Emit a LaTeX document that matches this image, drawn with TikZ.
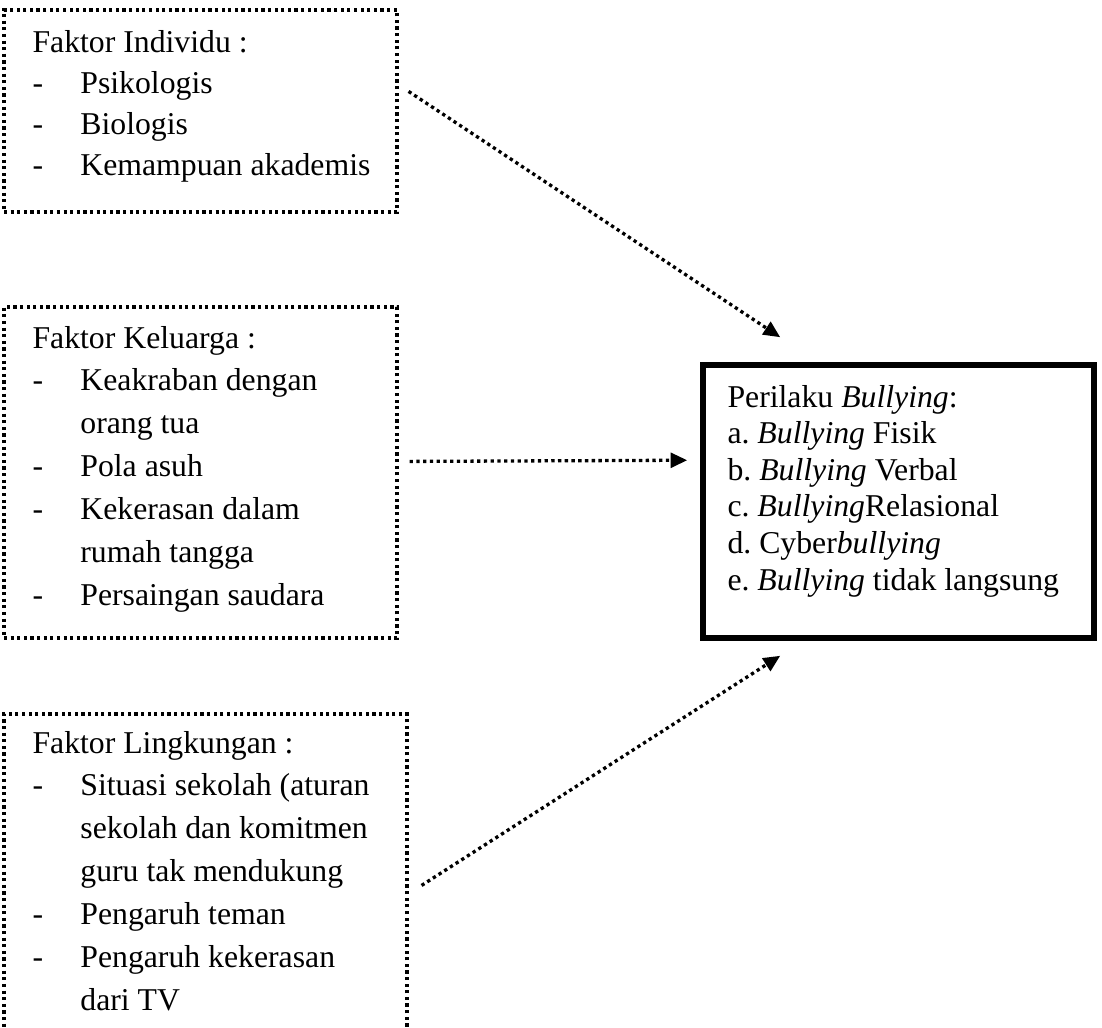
\documentclass[tikz,border=0pt]{standalone}
\usepackage{fontspec}
\setmainfont{Liberation Serif}
\usetikzlibrary{arrows.meta,fit}
\tikzset{
	dotbox/.style={draw, line width=1.2pt, dash pattern=on 1.2pt off 1.3pt, inner sep=0pt},
	thickbox/.style={draw, line width=2.1pt, inner sep=0pt},
	conn/.style={line width=1.25pt, dash pattern=on 1.25pt off 1.3pt, -{Triangle[length=6.3pt,width=5.6pt]}},
	listtext/.style={anchor=base west, inner sep=0pt},
}
\newcommand{\judul}[1]{\multicolumn{2}{@{}l@{}}{#1}}
\frenchspacing

\begin{document}
\begin{tikzpicture}[x=0.378pt,y=-0.378pt]
			%%%%% START %%%%%
			\useasboundingbox (0,0) rectangle (1102,1028);
			
			\node[dotbox, fit={(4,10) (397,212)}] (individu) {};
			\node[dotbox, fit={(4,307) (397,638)}] (keluarga) {};
			\node[dotbox, fit={(4,714) (407,1060)}] (lingkungan) {};
			\node[thickbox, fit={(703,365) (1094,638)}] (perilaku) {};
			
			\node[listtext, font=\fontsize{12}{15.5}\selectfont] (tindividu) at (32,52) {%
				\begin{tabular}[t]{@{}p{18.1pt}@{}l@{}}
					\judul{Faktor Individu :}\\
					- & Psikologis\\
					- & Biologis\\
					- & Kemampuan akademis
				\end{tabular}};
			
			\node[listtext, font=\fontsize{12}{16.2}\selectfont] (tkeluarga) at (32,348) {%
				\begin{tabular}[t]{@{}p{18.1pt}@{}l@{}}
					\judul{Faktor Keluarga :}\\
					- & Keakraban dengan\\
					  & orang tua\\
					- & Pola asuh\\
					- & Kekerasan dalam\\
					  & rumah tangga\\
					- & Persaingan saudara
				\end{tabular}};
			
			\node[listtext, font=\fontsize{12}{16.2}\selectfont] (tlingkungan) at (32,753) {%
				\begin{tabular}[t]{@{}p{18.1pt}@{}l@{}}
					\judul{Faktor Lingkungan :}\\
					- & Situasi sekolah (aturan\\
					  & sekolah dan komitmen\\
					  & guru tak mendukung\\
					- & Pengaruh teman\\
					- & Pengaruh kekerasan\\
					  & dari TV
				\end{tabular}};
			
			\node[listtext, font=\fontsize{12}{13.85}\selectfont] (tperilaku) at (727,407) {%
				\begin{tabular}[t]{@{}l@{}}
					Perilaku \textit{Bullying}:\\
					a. \textit{Bullying} Fisik\\
					b. \textit{Bullying} Verbal\\
					c. \textit{Bullying}Relasional\\
					d. Cyber\textit{bullying}\\
					e. \textit{Bullying} tidak langsung
				\end{tabular}};
			
			\draw[conn] ([shift={(10,83)}]individu.north east) -- ([shift={(80,-25)}]perilaku.north west);
			\draw[conn] ([shift={(11,156)}]keluarga.north east) -- ([shift={(-13,98)}]perilaku.north west);
			\draw[conn] ([shift={(13,173)}]lingkungan.north east) -- ([shift={(80,15)}]perilaku.south west);
			%%%%% END %%%%%
\end{tikzpicture}
\end{document}
